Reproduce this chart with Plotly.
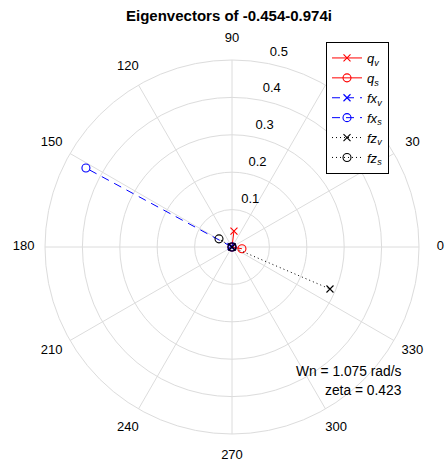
import plotly.graph_objects as go

names = ["<i>q</i><sub><i>v</i></sub>", "<i>q</i><sub><i>s</i></sub>",
         "<i>fx</i><sub><i>v</i></sub>", "<i>fx</i><sub><i>s</i></sub>",
         "<i>fz</i><sub><i>v</i></sub>", "<i>fz</i><sub><i>s</i></sub>"]
mags = [0.043, 0.027, 0.003, 0.444, 0.285, 0.041]
angles = [83.0, 350.0, 150.0, 151.6, 336.8, 148.0]
colors = ["red", "red", "blue", "blue", "black", "black"]
dashes = ["solid", "solid", "8px,6px", "8px,6px", "1px,3px", "1px,3px"]
symbols = ["x-thin-open", "circle-open", "x-thin-open", "circle-open", "x-thin-open", "circle-open"]
r_ticks = [0.1, 0.2, 0.3, 0.4, 0.5]
theta_ticks = list(range(0, 360, 30))
r_max = 0.5
label_r = 0.557
r_label_angle = 80

FONT = "Liberation Sans, Arial, sans-serif"
grid = "#dcdcdc"
fig = go.Figure()

# spokes (angular grid) limited to the outer grid circle
sp_r, sp_t = [], []
for t in theta_ticks:
    sp_r += [0, r_max, None]
    sp_t += [t, t, None]
fig.add_trace(go.Scatterpolar(r=sp_r, theta=sp_t, mode="lines",
                              line=dict(color=grid, width=1),
                              showlegend=False, hoverinfo="skip"))

for n, m, a, c, d, s in zip(names, mags, angles, colors, dashes, symbols):
    fig.add_trace(go.Scatterpolar(
        r=[0, m], theta=[0, a], mode="lines+markers", name=n,
        line=dict(color=c, dash=d, width=1),
        marker=dict(symbol=s, size=7 if s.startswith("x") else 8, color=c,
                    line=dict(color=c, width=1.1)),
    ))

# angular tick labels outside the grid circle
fig.add_trace(go.Scatterpolar(
    r=[label_r] * len(theta_ticks), theta=theta_ticks, mode="text",
    text=[str(t) for t in theta_ticks], textposition="middle center",
    textfont=dict(family=FONT, size=13, color="black"),
    showlegend=False, hoverinfo="skip",
))
# radial tick labels along 80 deg
fig.add_trace(go.Scatterpolar(
    r=[t + 0.03 for t in r_ticks], theta=[r_label_angle - 1] * len(r_ticks), mode="text",
    text=[str(t) for t in r_ticks], textposition="middle right",
    textfont=dict(family=FONT, size=13, color="black"),
    showlegend=False, hoverinfo="skip",
))

R_PX = 187 * label_r / r_max
CX, CY = 232, 247
fig.update_layout(
    width=445, height=466,
    margin=dict(l=0, r=0, t=0, b=0),
    paper_bgcolor="white", plot_bgcolor="white",
    font=dict(family=FONT, size=13, color="black"),
    title=dict(text="<b>Eigenvectors of -0.454-0.974i</b>", x=229 / 445, xanchor="center",
               y=1 - 16 / 466, yanchor="middle", font=dict(size=15)),
    polar=dict(
        domain=dict(x=[(CX - R_PX) / 445, (CX + R_PX) / 445],
                    y=[1 - (CY + R_PX) / 466, 1 - (CY - R_PX) / 466]),
        bgcolor="white",
        radialaxis=dict(range=[0, label_r], tickvals=r_ticks, showticklabels=False,
                        angle=r_label_angle, showline=False, ticks="",
                        gridcolor=grid, gridwidth=1),
        angularaxis=dict(tickvals=theta_ticks, showticklabels=False, showgrid=False,
                         direction="counterclockwise", rotation=0,
                         showline=False, ticks=""),
    ),
    legend=dict(x=326 / 445, y=1 - 42 / 466, xanchor="left", yanchor="top",
                bgcolor="white", bordercolor="black", borderwidth=1,
                font=dict(size=13), tracegroupgap=0, itemwidth=30),
    showlegend=True,
    annotations=[
        dict(text="Wn = 1.075 rad/s", x=404 / 445, y=1 - 371 / 466, xref="paper", yref="paper",
             xanchor="right", yanchor="middle", showarrow=False, font=dict(size=13.8)),
        dict(text="zeta = 0.423", x=404 / 445, y=1 - 390 / 466, xref="paper", yref="paper",
             xanchor="right", yanchor="middle", showarrow=False, font=dict(size=13.8)),
    ],
)
fig.write_html("out.html")
